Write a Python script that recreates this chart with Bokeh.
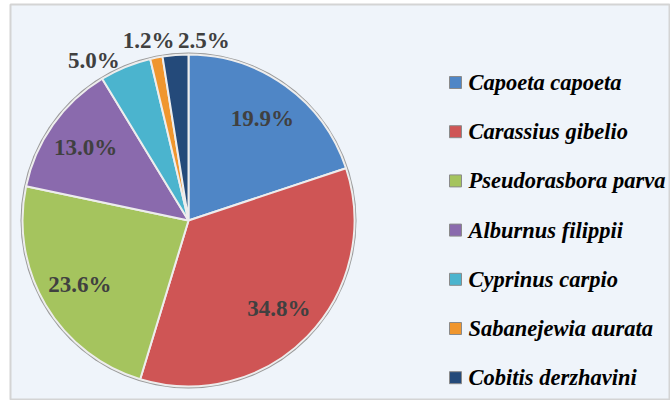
import numpy as np
from bokeh.plotting import figure
from bokeh.models import Range1d, ColumnDataSource
from bokeh.core.properties import value
from bokeh.embed import file_html
from bokeh.resources import INLINE

# ---- data ----
species = ["Capoeta capoeta", "Carassius gibelio", "Pseudorasbora parva",
           "Alburnus filippii", "Cyprinus carpio", "Sabanejewia aurata",
           "Cobitis derzhavini"]
percent = [19.9, 34.8, 23.6, 13.0, 5.0, 1.2, 2.5]
labels = ["19.9%", "34.8%", "23.6%", "13.0%", "5.0%", "1.2%", "2.5%"]
colors = ["#4F86C6", "#CF5555", "#A5C45E", "#8A6AAD", "#4BB4CE", "#F0962E", "#244A7A"]

# ---- styling / layout (pixel-like coordinates, y up) ----
W, H = 670, 400
ML, MT = 10, 4
cx, cy, R = 188, 186, 166
label_dx = [0, 0, 0, 0, -24, -4, 30]
label_dy = [0, 0, 0, 0, -12, -2, -5]

frac = np.array(percent) / np.sum(percent)
cum = np.concatenate([[0], np.cumsum(frac)])
start = np.pi / 2 - 2 * np.pi * cum[:-1]
end = np.pi / 2 - 2 * np.pi * cum[1:]
mid = np.pi / 2 - 2 * np.pi * (cum[:-1] + cum[1:]) / 2

rf = np.where(frac > 0.06, 0.76, 1.12)
lx = cx + rf * R * np.cos(mid) + np.array(label_dx)
ly = cy + rf * R * np.sin(mid) + np.array(label_dy)

src = ColumnDataSource(dict(start=start, end=end, color=colors, species=species))
lsrc = ColumnDataSource(dict(x=lx, y=ly, text=labels))

p = figure(width=W, height=H, output_backend="svg", toolbar_location=None,
           x_range=Range1d(ML, W), y_range=Range1d(406 - H, 406 - MT),
           min_border=0, min_border_left=ML, min_border_top=MT,
           background_fill_color="#EFF4FA",
           border_fill_color="white", outline_line_color="#D4D4D4",
           outline_line_width=2)
p.axis.visible = False
p.grid.visible = False

# outer rim
p.circle(x=cx, y=cy, radius=R + 2, fill_color="#9A9A9A", line_color=None)
p.wedge(x=cx, y=cy, radius=R, start_angle="start", end_angle="end",
        direction="clock", fill_color="color", line_color="#EDEDED",
        line_width=2, source=src)

p.text(x="x", y="y", text="text", source=lsrc, text_align="center",
       text_baseline="middle", text_font=value("Liberation Serif"),
       text_font_style="bold", text_font_size="23px", text_color="#404040")

# legend
n = len(species)
leg_y = 406 - (82 + 49.2 * np.arange(n))
p.rect(x=455, y=leg_y, width=12, height=12, fill_color=colors,
       line_color="#8A8A8A", line_width=1)
p.text(x=468, y=leg_y, text=species, text_align="left", text_baseline="middle",
       text_font=value("Liberation Serif"), text_font_style="bold italic",
       text_font_size="22.5px", text_color="black")

open("out.html", "w").write(file_html(p, INLINE))
